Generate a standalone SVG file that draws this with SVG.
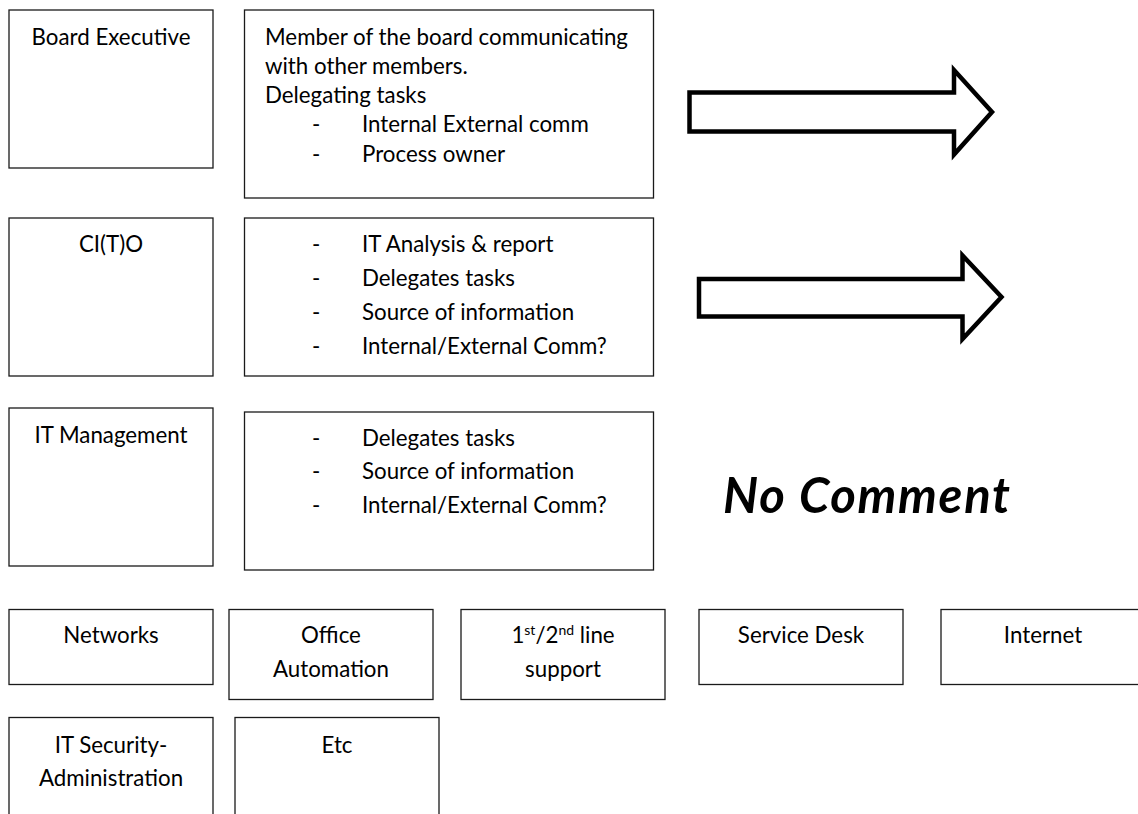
<svg xmlns="http://www.w3.org/2000/svg" width="1138" height="814" viewBox="0 0 1138 814">
<style>
.box{fill:#fff;stroke:#1a1a1a;stroke-width:1.3}
.t{font-family:Lato,"Open Sans","Liberation Sans",sans-serif;font-size:22.3px;fill:#000}
.c{text-anchor:middle}
.arrow{fill:#fff;stroke:#000;stroke-width:4.5;stroke-linejoin:miter;stroke-miterlimit:10}
.big{font-family:Lato,"Open Sans","Liberation Sans",sans-serif;font-size:49px;font-weight:bold;font-style:italic;fill:#000}
</style>
<rect width="1138" height="814" fill="#fff"/>
<g id="board-executive">
<rect class="box" x="9" y="10" width="204" height="158"/>
<text class="t c" x="111" y="44.5">Board Executive</text>
</g>
<g id="board-executive-desc">
<rect class="box" x="244.5" y="10" width="409" height="188"/>
<text class="t" x="265" y="44.5">Member of the board communicating</text>
<text class="t" x="265" y="73.5">with other members.</text>
<text class="t" x="265" y="102.5">Delegating tasks</text>
<text class="t" x="312" y="132">-</text>
<text class="t" x="362" y="132">Internal External comm</text>
<text class="t" x="312" y="161.5">-</text>
<text class="t" x="362" y="161.5">Process owner</text>
</g>
<g id="cito">
<rect class="box" x="9" y="218" width="204" height="158"/>
<text class="t c" x="111" y="252">CI(T)O</text>
</g>
<g id="cito-desc">
<rect class="box" x="244.5" y="218" width="409" height="158"/>
<text class="t" x="312" y="252">-</text>
<text class="t" x="362" y="252">IT Analysis &amp; report</text>
<text class="t" x="312" y="286">-</text>
<text class="t" x="362" y="286">Delegates tasks</text>
<text class="t" x="312" y="320">-</text>
<text class="t" x="362" y="320">Source of information</text>
<text class="t" x="312" y="353.5">-</text>
<text class="t" x="362" y="353.5">Internal/External Comm?</text>
</g>
<g id="it-management">
<rect class="box" x="9" y="408" width="204" height="158"/>
<text class="t c" x="111" y="442.5">IT Management</text>
</g>
<g id="it-management-desc">
<rect class="box" x="244.5" y="412" width="409" height="158"/>
<text class="t" x="312" y="445.5">-</text>
<text class="t" x="362" y="445.5">Delegates tasks</text>
<text class="t" x="312" y="479">-</text>
<text class="t" x="362" y="479">Source of information</text>
<text class="t" x="312" y="512.5">-</text>
<text class="t" x="362" y="512.5">Internal/External Comm?</text>
</g>
<g id="no-comment">
<text class="big" x="723" y="513" textLength="287" lengthAdjust="spacing">No Comment</text>
</g>
<g id="connectors">
<path class="arrow" d="M689.5,92.5 L954,92.5 L954,70 L992,112 L954,154.5 L954,131.5 L689.5,131.5 Z"/>
<path class="arrow" d="M699,279 L962.5,279 L962.5,255.5 L1001.5,297 L962.5,339 L962.5,316.5 L699,316.5 Z"/>
</g>
<g id="networks">
<rect class="box" x="9" y="609.5" width="204" height="75"/>
<text class="t c" x="111" y="643.3">Networks</text>
</g>
<g id="office-automation">
<rect class="box" x="229" y="609.5" width="204" height="90"/>
<text class="t c" x="331" y="643.3">Office</text>
<text class="t c" x="331" y="677">Automation</text>
</g>
<g id="line-support">
<rect class="box" x="461" y="609.5" width="204" height="90"/>
<text class="t c" x="563" y="643.3">1<tspan font-size="14" dy="-8">st</tspan><tspan dy="8">/2</tspan><tspan font-size="14" dy="-8">nd</tspan><tspan dy="8"> line</tspan></text>
<text class="t c" x="563" y="677">support</text>
</g>
<g id="service-desk">
<rect class="box" x="699" y="609.5" width="204" height="75"/>
<text class="t c" x="801" y="643.3">Service Desk</text>
</g>
<g id="internet">
<rect class="box" x="941" y="609.5" width="204" height="75"/>
<text class="t c" x="1043" y="643.3">Internet</text>
</g>
<g id="it-security">
<rect class="box" x="9" y="717.5" width="204" height="110"/>
<text class="t c" x="111" y="753">IT Security-</text>
<text class="t c" x="111" y="785.5">Administration</text>
</g>
<g id="etc">
<rect class="box" x="235" y="717.5" width="204" height="110"/>
<text class="t c" x="337" y="753">Etc</text>
</g>
</svg>
